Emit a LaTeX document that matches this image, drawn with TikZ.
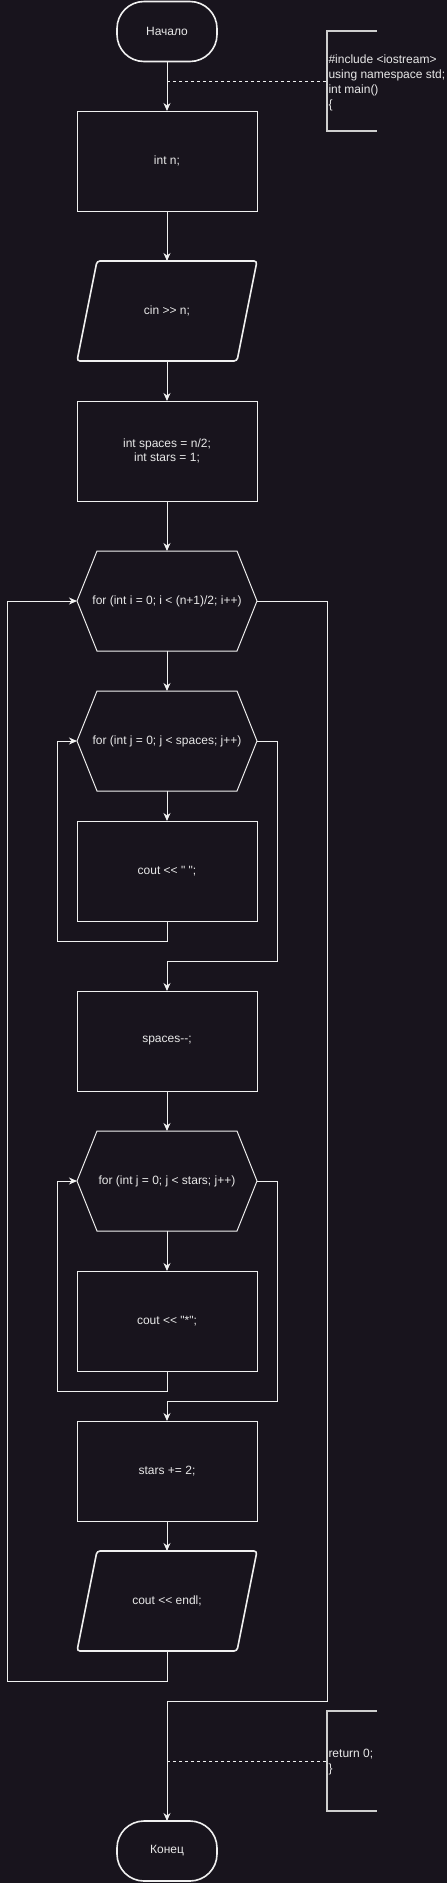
\documentclass[tikz,border=0pt]{standalone}
\usepackage{fontspec}
\setmainfont[Ligatures=TeXOff]{Liberation Sans}
\usetikzlibrary{arrows.meta}
\definecolor{bg}{HTML}{18141D}
\definecolor{lc}{HTML}{F0F0F0}
\definecolor{tx}{HTML}{E8E8E8}
\definecolor{br}{HTML}{CFCFCF}
\begin{document}
\begin{tikzpicture}[x=1pt,y=-1pt,
  every node/.style={font=\fontsize{12}{14.5}\selectfont, text=tx, outer sep=0pt, inner sep=0pt},
  proc/.style={draw=lc, line width=1pt, minimum width=180pt, minimum height=100pt, align=center},
  blank/.style={minimum width=180pt, minimum height=100pt, align=center},
  term/.style={draw=lc, line width=1.6pt, rounded corners=27pt, minimum width=100pt, minimum height=60pt},
  shp/.style={draw=lc, line width=1pt},
  pshp/.style={draw=lc, line width=1.6pt, rounded corners=3pt},
  arr/.style={draw=lc, line width=1pt, -{Stealth[length=8pt,width=7pt,inset=2.5pt]}},
  dsh/.style={draw=lc, line width=0.8pt, dash pattern=on 3pt off 3pt},
  brk/.style={draw=br, line width=2pt},
  annot/.style={minimum width=50pt, minimum height=100pt},
  annott/.style={anchor=west, align=left, font=\fontsize{12}{15}\selectfont},
]
\fill[bg] (0,0) rectangle (447,1883);
\useasboundingbox (0,0) rectangle (447,1883);

% main nodes
\node[term] (start) at (167,31.5) {Начало};
\node[proc] (n1) at (167,161) {int n;};
\node[blank] (cin) at (167,311) {cin >> n;};
\node[proc] (sp) at (167,451) {int spaces = n/2;\\int stars = 1;};
\node[blank] (fi) at (167,601) {for (int i = 0; i < (n+1)/2; i++)};
\node[blank] (fj1) at (167,741) {for (int j = 0; j < spaces; j++)};
\node[proc] (c1) at (167,871) {cout << " ";};
\node[proc] (dec) at (167,1041) {spaces--;};
\node[blank] (fj2) at (167,1181) {for (int j = 0; j < stars; j++)};
\node[proc] (c2) at (167,1321) {cout << "*";};
\node[proc] (inc) at (167,1471) {stars += 2;};
\node[blank] (out) at (167,1601) {cout << endl;};
\node[term] (end) at (167,1851) {Конец};

% parallelograms
\foreach \p in {cin,out}
  \draw[pshp] ([xshift=20pt]\p.north west) -- (\p.north east) -- ([xshift=-20pt]\p.south east) -- (\p.south west) -- cycle;
% hexagons
\foreach \h in {fi,fj1,fj2}
  \draw[shp] ([xshift=20pt]\h.north west) -- ([xshift=-20pt]\h.north east) -- (\h.east) -- ([xshift=-20pt]\h.south east) -- ([xshift=20pt]\h.south west) -- (\h.west) -- cycle;

% annotations
\node[annot] (a1) at (352,81) {};
\draw[brk] (a1.north east) -- (a1.north west) -- (a1.south west) -- (a1.south east);
\node[annott] (a1t) at ([xshift=1.5pt,yshift=-2pt]a1.west) {\#include <iostream>\\using namespace std;\\int main()\\\{};
\node[annot] (a2) at (352,1761) {};
\draw[brk] (a2.north east) -- (a2.north west) -- (a2.south west) -- (a2.south east);
\node[annott] (a2t) at ([xshift=1.5pt,yshift=-1.5pt]a2.west) {return 0;\\\}};
\coordinate (d1) at (167,81);
\coordinate (d2) at (167,1761);
\draw[dsh] (d1) -- (a1.west);
\draw[dsh] (d2) -- (a2.west);

% connectors
\draw[arr] (start.south) -- (n1.north);
\draw[arr] (n1.south) -- (cin.north);
\draw[arr] (cin.south) -- (sp.north);
\draw[arr] (sp.south) -- (fi.north);
\draw[arr] (fi.south) -- (fj1.north);
\draw[arr] (fj1.south) -- (c1.north);
\draw[arr] (c1.south) -- (167,941) -| (57.5,741) -- (fj1.west);
\draw[arr] (fj1.east) -- (277,741) |- (167,961) -- (dec.north);
\draw[arr] (dec.south) -- (fj2.north);
\draw[arr] (fj2.south) -- (c2.north);
\draw[arr] (c2.south) -- (167,1391) -| (57.5,1181) -- (fj2.west);
\draw[arr] (fj2.east) -- (277,1181) |- (167,1401) -- (inc.north);
\draw[arr] (inc.south) -- (out.north);
\draw[arr] (out.south) -- (167,1681) -| (7.5,601) -- (fi.west);
\draw[arr] (fi.east) -- (327,601) |- (167,1701) -- (end.north);
\end{tikzpicture}
\end{document}
